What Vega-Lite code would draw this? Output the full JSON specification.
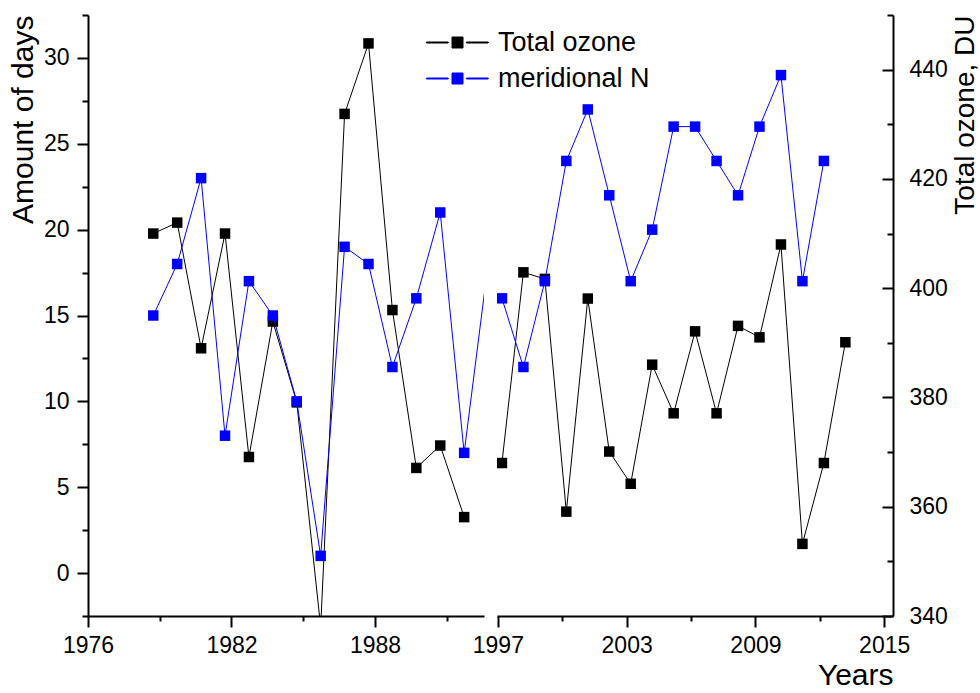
{
  "$schema": "https://vega.github.io/schema/vega-lite/v6.json",
  "autosize": {"type": "pad"},
  "padding": {"left": 8, "top": 4, "right": 0, "bottom": 0},
  "background": "white",
  "bounds": "flush",
  "spacing": 13,
  "datasets": {
    "ozone": [
      {"year": 1979, "series": "Total ozone", "du": 410.0}, {"year": 1980, "series": "Total ozone", "du": 412.0},
      {"year": 1981, "series": "Total ozone", "du": 389.0}, {"year": 1982, "series": "Total ozone", "du": 410.0},
      {"year": 1983, "series": "Total ozone", "du": 369.1}, {"year": 1984, "series": "Total ozone", "du": 393.9},
      {"year": 1985, "series": "Total ozone", "du": 379.1}, {"year": 1986, "series": "Total ozone", "du": 338.0},
      {"year": 1987, "series": "Total ozone", "du": 431.9}, {"year": 1988, "series": "Total ozone", "du": 444.8},
      {"year": 1989, "series": "Total ozone", "du": 396.0}, {"year": 1990, "series": "Total ozone", "du": 367.1},
      {"year": 1991, "series": "Total ozone", "du": 371.2}, {"year": 1992, "series": "Total ozone", "du": 358.1},
      {"year": 1997, "series": "Total ozone", "du": 368.0}, {"year": 1998, "series": "Total ozone", "du": 402.9},
      {"year": 1999, "series": "Total ozone", "du": 401.7}, {"year": 2000, "series": "Total ozone", "du": 359.1},
      {"year": 2001, "series": "Total ozone", "du": 398.1}, {"year": 2002, "series": "Total ozone", "du": 370.1},
      {"year": 2003, "series": "Total ozone", "du": 364.2}, {"year": 2004, "series": "Total ozone", "du": 386.0},
      {"year": 2005, "series": "Total ozone", "du": 377.1}, {"year": 2006, "series": "Total ozone", "du": 392.1},
      {"year": 2007, "series": "Total ozone", "du": 377.1}, {"year": 2008, "series": "Total ozone", "du": 393.1},
      {"year": 2009, "series": "Total ozone", "du": 391.0}, {"year": 2010, "series": "Total ozone", "du": 408.0},
      {"year": 2011, "series": "Total ozone", "du": 353.2}, {"year": 2012, "series": "Total ozone", "du": 368.0},
      {"year": 2013, "series": "Total ozone", "du": 390.1}
    ],
    "days": [
      {"year": 1979, "series": "meridional N", "n": 15}, {"year": 1980, "series": "meridional N", "n": 18},
      {"year": 1981, "series": "meridional N", "n": 23}, {"year": 1982, "series": "meridional N", "n": 8},
      {"year": 1983, "series": "meridional N", "n": 17}, {"year": 1984, "series": "meridional N", "n": 15},
      {"year": 1985, "series": "meridional N", "n": 10}, {"year": 1986, "series": "meridional N", "n": 1},
      {"year": 1987, "series": "meridional N", "n": 19}, {"year": 1988, "series": "meridional N", "n": 18},
      {"year": 1989, "series": "meridional N", "n": 12}, {"year": 1990, "series": "meridional N", "n": 16},
      {"year": 1991, "series": "meridional N", "n": 21}, {"year": 1992, "series": "meridional N", "n": 7},
      {"year": 1993, "series": "meridional N", "n": 18},
      {"year": 1997, "series": "meridional N", "n": 16}, {"year": 1998, "series": "meridional N", "n": 12},
      {"year": 1999, "series": "meridional N", "n": 17}, {"year": 2000, "series": "meridional N", "n": 24},
      {"year": 2001, "series": "meridional N", "n": 27}, {"year": 2002, "series": "meridional N", "n": 22},
      {"year": 2003, "series": "meridional N", "n": 17}, {"year": 2004, "series": "meridional N", "n": 20},
      {"year": 2005, "series": "meridional N", "n": 26}, {"year": 2006, "series": "meridional N", "n": 26},
      {"year": 2007, "series": "meridional N", "n": 24}, {"year": 2008, "series": "meridional N", "n": 22},
      {"year": 2009, "series": "meridional N", "n": 26}, {"year": 2010, "series": "meridional N", "n": 29},
      {"year": 2011, "series": "meridional N", "n": 17}, {"year": 2012, "series": "meridional N", "n": 24}
    ]
  },
  "config": {
    "view": {"stroke": null},
    "font": "Liberation Sans",
    "axis": {
      "grid": false, "domainColor": "black", "domainWidth": 2, "tickColor": "black", "tickWidth": 2,
      "labelColor": "black", "titleColor": "black", "labelFont": "Liberation Sans", "titleFont": "Liberation Sans",
      "labelFontSize": 23, "titleFontSize": 28, "titleFontWeight": "normal", "labelFlush": false, "labelOverlap": false
    }
  },
  "resolve": {"scale": {"color": "shared"}, "legend": {"color": "shared"}},
  "hconcat": [
    {
      "width": 396, "height": 601,
      "encoding": {
        "x": {
          "field": "year", "type": "quantitative",
          "scale": {"domain": [1976.27, 1992.83], "nice": false, "zero": false},
          "axis": {
            "values": [1976.27, 1979.27, 1982.27, 1985.27, 1988.27, 1991.27],
            "labelExpr": "(round(datum.value) - 1976) % 6 === 0 ? format(round(datum.value), 'd') : ''",
            "tickSize": {"condition": {"test": "(round(datum.value) - 1976) % 6 === 0", "value": 11}, "value": 5},
            "labelPadding": 7, "title": null
          }
        },
        "color": {
          "field": "series", "type": "nominal",
          "scale": {"domain": ["Total ozone", "meridional N"], "range": ["#000000", "#0000ff"]},
          "legend": {
            "orient": "none", "legendX": 377, "legendY": 14, "title": null, "padding": 0,
            "labelFontSize": 27, "labelFont": "Liberation Sans", "labelColor": "black", "labelOffset": 6,
            "labelLimit": 0, "rowPadding": 8,
            "symbolType": "M -5.2 -0.05 L -3.03 -0.05 L -3.03 0.05 L -5.2 0.05 Z M -1.2 -0.05 L 0.97 -0.05 L 0.97 0.05 L -1.2 0.05 Z M -2.65 -0.55 L -1.55 -0.55 L -1.55 0.55 L -2.65 0.55 Z M -2.65 -0.4 L -1.55 -0.4 M -2.65 -0.3 L -1.55 -0.3 M -2.65 -0.2 L -1.55 -0.2 M -2.65 -0.1 L -1.55 -0.1 M -2.65 0 L -1.55 0 M -2.65 0.1 L -1.55 0.1 M -2.65 0.2 L -1.55 0.2 M -2.65 0.3 L -1.55 0.3 M -2.65 0.4 L -1.55 0.4",
            "symbolSize": 400, "symbolStrokeWidth": 1, "symbolOpacity": 1
          }
        }
      },
      "layer": [
        {
          "data": {"name": "ozone"},
          "transform": [{"filter": "datum.year <= 1993"}],
          "encoding": {
            "y": {"field": "du", "type": "quantitative", "scale": {"domain": [340, 450], "nice": false, "zero": false}, "axis": null}
          },
          "layer": [
            {"mark": {"type": "line", "strokeWidth": 1, "clip": true}},
            {"mark": {"type": "point", "shape": "square", "filled": true, "size": 110, "opacity": 1, "clip": true}}
          ]
        },
        {
          "data": {"name": "days"},
          "transform": [{"filter": "datum.year <= 1993"}],
          "encoding": {
            "y": {
              "field": "n", "type": "quantitative", "scale": {"domain": [-2.5, 32.5], "nice": false, "zero": false},
              "axis": {
                "orient": "left",
                "values": [-2.5, 0, 2.5, 5, 7.5, 10, 12.5, 15, 17.5, 20, 22.5, 25, 27.5, 30, 32.5],
                "labelExpr": "datum.value % 5 === 0 ? format(datum.value, 'd') : ''",
                "tickSize": {"condition": {"test": "datum.value % 5 === 0", "value": 11}, "value": 6},
                "labelPadding": 8,
                "title": "Amount of days", "titleFontSize": 30, "titleAnchor": "end", "titleAlign": "right", "titleAngle": 270,
                "titleBaseline": "bottom", "titlePadding": 5
              }
            }
          },
          "layer": [
            {"mark": {"type": "line", "strokeWidth": 1, "clip": true}},
            {"transform": [{"filter": "datum.year <= 1992"}], "mark": {"type": "point", "shape": "square", "filled": true, "size": 110, "opacity": 1, "clip": true}}
          ]
        }
      ],
      "resolve": {"scale": {"y": "independent"}, "axis": {"y": "independent"}}
    },
    {
      "width": 396, "height": 601,
      "encoding": {
        "x": {
          "field": "year", "type": "quantitative",
          "scale": {"domain": [1996.77, 2015.22], "nice": false, "zero": false},
          "axis": {
            "values": [1996.81, 1999.81, 2002.81, 2005.81, 2008.81, 2011.81, 2014.81],
            "labelExpr": "(round(datum.value) - 1997) % 6 === 0 ? format(round(datum.value), 'd') : ''",
            "tickSize": {"condition": {"test": "(round(datum.value) - 1997) % 6 === 0", "value": 11}, "value": 5},
            "labelPadding": 7,
            "title": "Years", "titleFontSize": 30, "titleAnchor": "end", "titleAlign": "right", "titlePadding": 3
          }
        },
        "color": {"field": "series", "type": "nominal", "legend": null}
      },
      "layer": [
        {
          "data": {"name": "ozone"},
          "transform": [{"filter": "datum.year >= 1997"}],
          "encoding": {
            "y": {
              "field": "du", "type": "quantitative", "scale": {"domain": [340, 450], "nice": false, "zero": false},
              "axis": {
                "orient": "right",
                "values": [340, 350, 360, 370, 380, 390, 400, 410, 420, 430, 440, 450],
                "labelExpr": "datum.value % 20 === 0 ? format(datum.value, 'd') : ''",
                "tickSize": {"condition": {"test": "datum.value % 20 === 0", "value": -11}, "value": -6},
                "labelPadding": 27,
                "title": "Total ozone, DU", "titleFontSize": 28, "titleAnchor": "end", "titleAlign": "right", "titleAngle": 270,
                "titleBaseline": "top", "titlePadding": 4
              }
            }
          },
          "layer": [
            {"mark": {"type": "line", "strokeWidth": 1, "clip": true}},
            {"mark": {"type": "point", "shape": "square", "filled": true, "size": 110, "opacity": 1, "clip": true}},
            {
              "data": {"values": [{"mark": "break"}]},
              "transform": [],
              "mark": {"type": "point", "shape": "M -1.21 1 L -0.03 -1 M 0.03 1 L 1.21 -1", "size": 484, "filled": false, "stroke": "black", "strokeWidth": 2.2, "opacity": 1, "clip": false},
              "encoding": {
                "x": {"datum": 1996.44, "type": "quantitative"},
                "y": {"datum": 340, "type": "quantitative"},
                "color": {"value": "black"}
              }
            }
          ]
        },
        {
          "data": {"name": "days"},
          "transform": [{"filter": "datum.year >= 1997"}],
          "encoding": {
            "y": {"field": "n", "type": "quantitative", "scale": {"domain": [-2.5, 32.5], "nice": false, "zero": false}, "axis": null}
          },
          "layer": [
            {"mark": {"type": "line", "strokeWidth": 1, "clip": true}},
            {"mark": {"type": "point", "shape": "square", "filled": true, "size": 110, "opacity": 1, "clip": true}}
          ]
        }
      ],
      "resolve": {"scale": {"y": "independent"}, "axis": {"y": "independent"}}
    }
  ]
}
